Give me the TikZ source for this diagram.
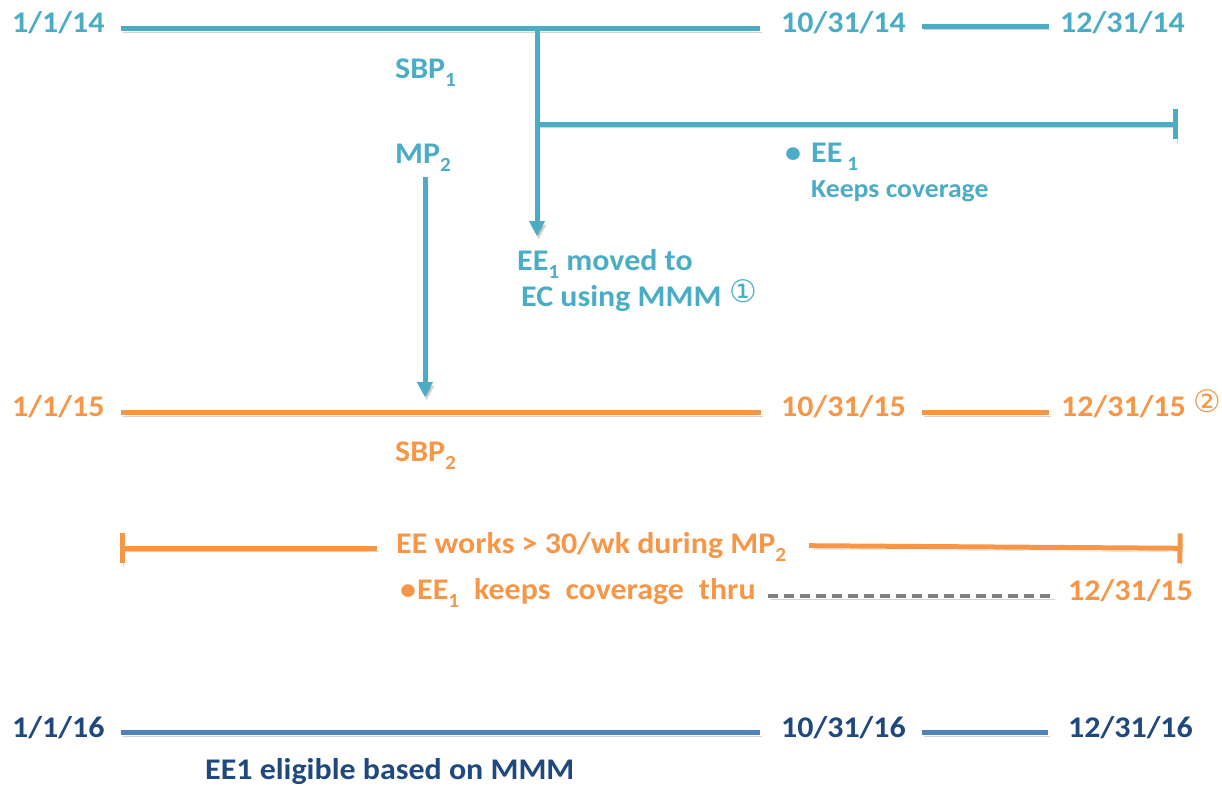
\documentclass[tikz,border=0pt]{standalone}
\usepackage{fontspec}
\setmainfont{Carlito}[FakeStretch=1.065]
\newfontfamily\symfont{DejaVu Sans}
\usetikzlibrary{arrows.meta}
\definecolor{teal1}{HTML}{4BACC6}
\definecolor{orange1}{HTML}{F79646}
\definecolor{navy1}{HTML}{1F497D}
\definecolor{blue1}{HTML}{4F81BD}
\newcommand\subx[1]{\raisebox{-0.27em}{\fontsize{20}{20}\selectfont #1}}
\tikzset{
  lbl/.style={anchor=base west,inner sep=0pt,font=\fontsize{30}{32}\selectfont\bfseries},
  circnum/.style={inner sep=0pt,font=\fontsize{31}{32}\selectfont\symfont},
  shade/.style={preaction={draw=black,opacity=0.17,transform canvas={shift={(1.5pt,-3.5pt)}}}},
  tline/.style={line width=5pt,shade},
  arr/.style={line width=5pt,shade,-{Triangle[length=15pt,width=15pt]}},
}
\begin{document}
\begin{tikzpicture}[x=1pt,y=-1pt]
\useasboundingbox (0,0) rectangle (1222,788);
% ---------- row 2014 ----------
\begin{scope}[every node/.append style={text=teal1},draw=teal1]
\node[lbl] (a1) at (12,32.5) {1/1/14};
\node[lbl] (a2) at (781,32.5) {10/31/14};
\node[lbl] (a3) at (1060,32.5) {12/31/14};
\coordinate (a1s) at (121,28.5); \coordinate (a1e) at (760,28.5);
\coordinate (a2s) at (922,26); \coordinate (a2e) at (1049,26);
\draw[tline] (a1s) -- (a1e);
\draw[tline] (a2s) -- (a2e);
\node[lbl] (sbp1) at (395,78.3) {SBP\subx{1}};
\node[lbl] (mp2) at (395,163.3) {MP\subx{2}};
\coordinate (vtop) at (537,28.5);
\coordinate (vtip) at (537,236);
\coordinate (vbr) at (537,124);
\coordinate (brend) at (1178,124);
\node[lbl] (moved) at (517,270) {EE\subx{1} moved to};
\node[lbl] (ecmmm) at (521,306.7) {EC using MMM};
\node[circnum,teal1] (c1) at (743,291) {①};
\draw[arr] (vtop) -- (vtip);
\draw[line width=5pt,shade,-{Bar[width=30pt,line width=5pt]}] (vbr) -- (brend);
\node[lbl] (ee1) at (785,162.7) {\makebox[26pt][l]{•}EE\hspace{5pt}\subx{1}};
\node[lbl,font=\fontsize{26}{28}\selectfont\bfseries] (keeps) at (811,197.3) {Keeps coverage};
\coordinate (mps) at (425,177);
\coordinate (mpe) at (425,397);
\draw[arr] (mps) -- (mpe);
\end{scope}
% ---------- row 2015 ----------
\begin{scope}[every node/.append style={text=orange1},draw=orange1]
\node[lbl] (b1) at (12,416) {1/1/15};
\node[lbl] (b2) at (781,416) {10/31/15};
\node[lbl] (b3) at (1061,416) {12/31/15};
\node[circnum,orange1] (c2) at (1207,401) {②};
\coordinate (b1s) at (121,412.3); \coordinate (b1e) at (761,412.3);
\coordinate (b2s) at (922,412.3); \coordinate (b2e) at (1049,412.3);
\draw[tline] (b1s) -- (b1e);
\draw[tline] (b2s) -- (b2e);
\node[lbl] (sbp2) at (395,461.7) {SBP\subx{2}};
\node[lbl] (works) at (396,553.3) {EE works > 30/wk during MP\subx{2}};
\coordinate (wl) at (119.5,548); \coordinate (wle) at (377,548);
\coordinate (wrs) at (809,545.7); \coordinate (wr) at (1182.5,548.3);
\draw[line width=5pt,shade,{Bar[width=30pt,line width=5pt]}-] (wl) -- (wle);
\draw[line width=5pt,shade,-{Bar[width=30pt,line width=5pt]}] (wrs) -- (wr);
\node[lbl] (thru) at (400,599.3) {\makebox[17pt][l]{•}EE\subx{1}\hspace{15pt}keeps\hspace{15pt}coverage\hspace{15pt}thru};
\node[lbl] (thrud) at (1068,600) {12/31/15};
\coordinate (ds) at (768,596); \coordinate (de) at (1053,596);
\end{scope}
\draw[gray,line width=3.2pt,dash pattern=on 10pt off 6pt,shade] (ds) -- (de);
% ---------- row 2016 ----------
\begin{scope}[every node/.append style={text=navy1},draw=blue1]
\node[lbl] (c1d) at (12,737.5) {1/1/16};
\node[lbl] (c2d) at (781,737.5) {10/31/16};
\node[lbl] (c3d) at (1068,737.5) {12/31/16};
\coordinate (c1s) at (121,732.3); \coordinate (c1e) at (760,732.3);
\coordinate (c2s) at (922,732.3); \coordinate (c2e) at (1048,732.3);
\draw[tline] (c1s) -- (c1e);
\draw[tline] (c2s) -- (c2e);
\node[lbl] (elig) at (205,779.5) {EE1 eligible based on MMM};
\end{scope}
\end{tikzpicture}
\end{document}
